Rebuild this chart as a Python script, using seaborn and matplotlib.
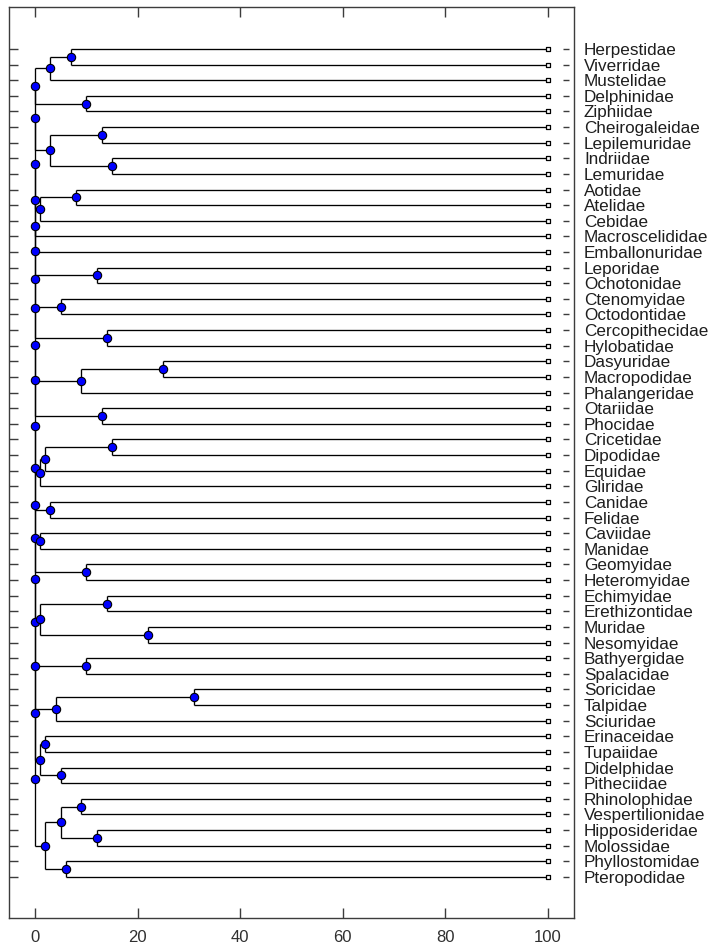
import matplotlib
matplotlib.use("Agg")
import matplotlib.pyplot as plt
from matplotlib.collections import LineCollection
import pandas as pd
import seaborn as sns

# Tip labels, top to bottom
families = [
    "Herpestidae", "Viverridae", "Mustelidae", "Delphinidae", "Ziphiidae",
    "Cheirogaleidae", "Lepilemuridae", "Indriidae", "Lemuridae", "Aotidae",
    "Atelidae", "Cebidae", "Macroscelididae", "Emballonuridae", "Leporidae",
    "Ochotonidae", "Ctenomyidae", "Octodontidae", "Cercopithecidae",
    "Hylobatidae", "Dasyuridae", "Macropodidae", "Phalangeridae", "Otariidae",
    "Phocidae", "Cricetidae", "Dipodidae", "Equidae", "Gliridae", "Canidae",
    "Felidae", "Caviidae", "Manidae", "Geomyidae", "Heteromyidae",
    "Echimyidae", "Erethizontidae", "Muridae", "Nesomyidae", "Bathyergidae",
    "Spalacidae", "Soricidae", "Talpidae", "Sciuridae", "Erinaceidae",
    "Tupaiidae", "Didelphidae", "Pitheciidae", "Rhinolophidae",
    "Vespertilionidae", "Hipposideridae", "Molossidae", "Phyllostomidae",
    "Pteropodidae",
]

# Subtrees hanging from the root comb; internal nodes are (age, child, child)
subtrees = [
    (3, (7, "Herpestidae", "Viverridae"), "Mustelidae"),
    (10, "Delphinidae", "Ziphiidae"),
    (3, (13, "Cheirogaleidae", "Lepilemuridae"), (15, "Indriidae", "Lemuridae")),
    (1, (8, "Aotidae", "Atelidae"), "Cebidae"),
    "Macroscelididae",
    "Emballonuridae",
    (12, "Leporidae", "Ochotonidae"),
    (5, "Ctenomyidae", "Octodontidae"),
    (14, "Cercopithecidae", "Hylobatidae"),
    (9, (25, "Dasyuridae", "Macropodidae"), "Phalangeridae"),
    (13, "Otariidae", "Phocidae"),
    (1, (2, (15, "Cricetidae", "Dipodidae"), "Equidae"), "Gliridae"),
    (3, "Canidae", "Felidae"),
    (1, "Caviidae", "Manidae"),
    (10, "Geomyidae", "Heteromyidae"),
    (1, (14, "Echimyidae", "Erethizontidae"), (22, "Muridae", "Nesomyidae")),
    (10, "Bathyergidae", "Spalacidae"),
    (4, (31, "Soricidae", "Talpidae"), "Sciuridae"),
    (1, (2, "Erinaceidae", "Tupaiidae"), (5, "Didelphidae", "Pitheciidae")),
    (2, (5, (9, "Rhinolophidae", "Vespertilionidae"),
            (12, "Hipposideridae", "Molossidae")),
        (6, "Phyllostomidae", "Pteropodidae")),
]
root_age = 0
tip_age = 100
xticks = [0, 20, 40, 60, 80, 100]

# Join the subtrees into one tree along a zero-age comb
tree = subtrees[0]
for sub in subtrees[1:]:
    tree = (root_age, tree, sub)

tip_y = {name: i for i, name in enumerate(families)}
segments, node_rows, tip_rows = [], [], []


def layout(node):
    """Rectangular phylogram layout; returns (x, y) of the node."""
    if isinstance(node, str):
        y = tip_y[node]
        tip_rows.append({"x": tip_age, "y": y})
        return tip_age, y
    age, a, b = node
    xa, ya = layout(a)
    xb, yb = layout(b)
    y = (ya + yb) / 2
    segments.append([(age, ya), (age, yb)])
    segments.append([(age, ya), (xa, ya)])
    segments.append([(age, yb), (xb, yb)])
    node_rows.append({"x": age, "y": y})
    return age, y


layout(tree)
nodes_df = pd.DataFrame(node_rows[::-1])
tips_df = pd.DataFrame(tip_rows)

sns.set_theme(style="ticks")
plt.rcParams["font.family"] = ["Liberation Sans", "DejaVu Sans"]

W, H = 710, 946
fig = plt.figure(figsize=(W / 100, H / 100), dpi=100)
ax = fig.add_axes([9 / W, 28 / H, 565 / W, 910.5 / H])

ax.add_collection(LineCollection(segments, colors="black", linewidths=0.95,
                                 capstyle="butt", zorder=1))

sns.scatterplot(data=tips_df, x="x", y="y", marker="s", s=12,
                color="white", edgecolor="black", linewidth=0.9,
                ax=ax, zorder=3, legend=False)
sns.scatterplot(data=nodes_df, x="x", y="y", marker="o", s=36,
                color="#0000ff", edgecolor="black", linewidth=0.8,
                ax=ax, zorder=4, legend=False)

ax.set_xlim(-5.07, 105.07)
ylim = (len(families) - 1 + 2.63, -2.65)
ax.set_ylim(*ylim)
ax.set_xlabel("")
ax.set_ylabel("")

box = "#3c3c3c"
for side in ["left", "right", "top", "bottom"]:
    ax.spines[side].set_visible(True)
    ax.spines[side].set_color(box)
    ax.spines[side].set_linewidth(1.0)

ax.set_xticks(xticks)
ax.set_xticklabels([str(t) for t in xticks])
ax.tick_params(axis="x", direction="in", length=7, width=1.0, color=box,
               top=True, bottom=True, labeltop=False, labelsize=12,
               labelcolor="#303030", pad=8.6)
ax.set_yticks(range(len(families)))
ax.tick_params(axis="y", direction="in", length=6.5, width=1.0, color=box,
               left=True, right=False, labelleft=False)

# Family names on the right, with their own short tick marks
ax2 = ax.twinx()
ax2.set_ylim(*ylim)
ax2.set_yticks(range(len(families)))
ax2.set_yticklabels(families)
for side in ["left", "top", "bottom"]:
    ax2.spines[side].set_visible(False)
ax2.spines["right"].set_position(("outward", -7.9))
ax2.spines["right"].set_color("none")
ax2.tick_params(axis="y", direction="out", length=4.3, width=1.0, color=box,
                right=True, left=False, labelright=True, labelleft=False,
                labelsize=12.3, labelcolor="#1e1e1e", pad=10.8)
ax2.set_ylabel("")

fig.savefig("out.png", dpi=100)
